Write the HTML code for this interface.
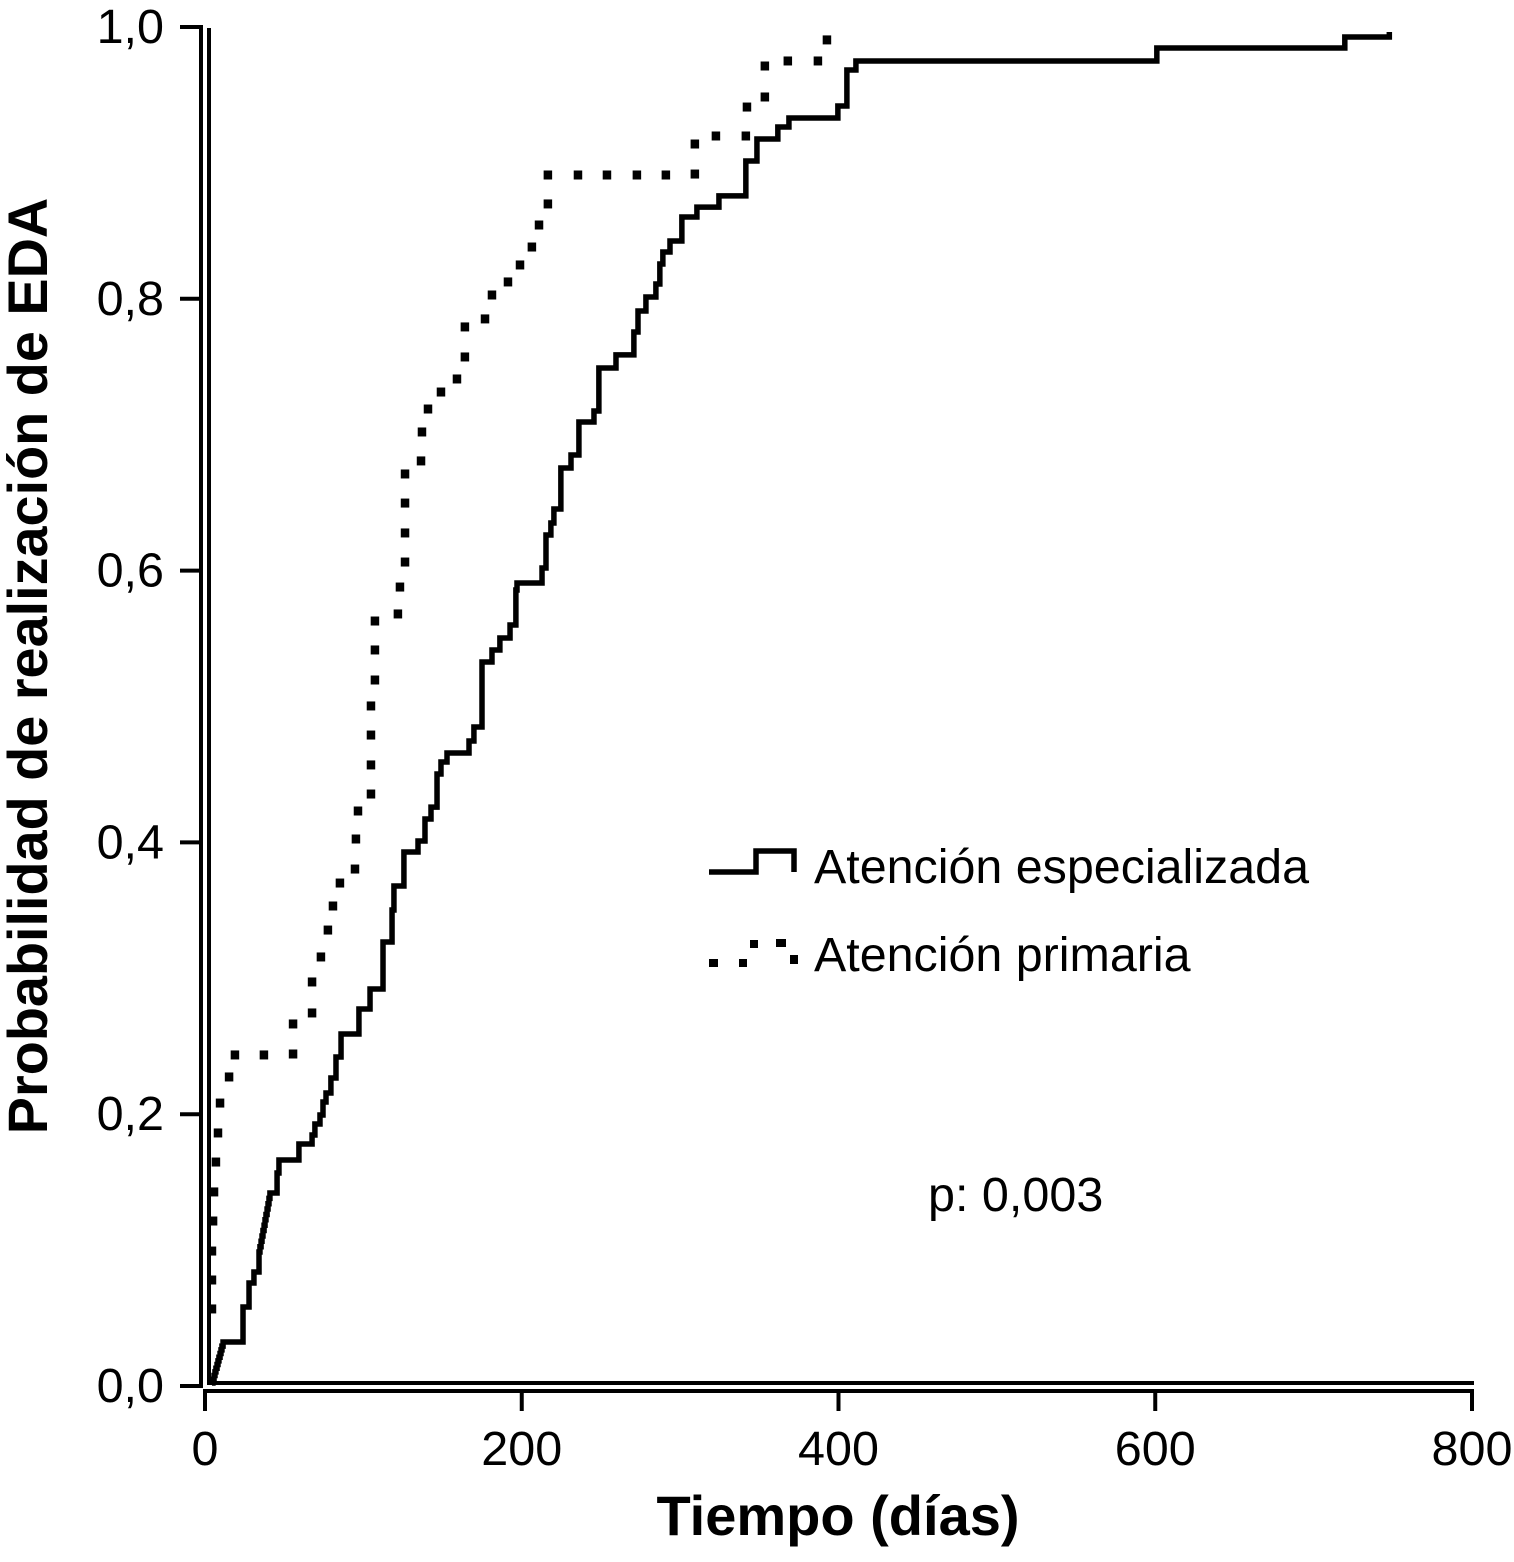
<!DOCTYPE html>
<html lang="es">
<head>
<meta charset="utf-8">
<title>Probabilidad de realización de EDA</title>
<style>
html,body{margin:0;padding:0;background:#fff;width:1514px;height:1562px;overflow:hidden}
svg{display:block;font-family:"Liberation Sans",Arial,sans-serif;fill:#000}
</style>
</head>
<body>
<svg id="chart" xmlns="http://www.w3.org/2000/svg" width="1514" height="1562" viewBox="0 0 1514 1562">
  <rect x="0" y="0" width="1514" height="1562" fill="#fff"/>
  <g id="axes"></g>
  <g id="series"></g>
  <text x="838" y="1535" font-size="56" font-weight="700" text-anchor="middle">Tiempo (días)</text>
  <text transform="translate(47,666) rotate(-90)" font-size="55.8" font-weight="700" text-anchor="middle">Probabilidad de realización de EDA</text>
  <g>
    <path d="M709 872H756V851H794V872" fill="none" stroke="#000" stroke-width="5.5"/>
    <text x="814" y="883" font-size="48.4">Atención especializada</text>
    <g>
      <rect x="709" y="959" width="9" height="8"/>
      <rect x="739" y="959" width="8" height="8"/>
      <rect x="750" y="940" width="8" height="8"/>
      <rect x="776" y="939" width="10" height="8"/>
      <rect x="790" y="955" width="8" height="9"/>
    </g>
    <text x="814" y="971" font-size="48.4">Atención primaria</text>
  </g>
  <text x="928" y="1211" font-size="48.5">p: 0,003</text>
</svg>
<script>
const xTickValues = [0, 200, 400, 600, 800];
const xTickLabels = ["0", "200", "400", "600", "800"];
const yTickValues = [0, 0.2, 0.4, 0.6, 0.8, 1];
const yTickLabels = ["0,0", "0,2", "0,4", "0,6", "0,8", "1,0"];

const especializadaTimes = [4.4,5.0,5.7,6.3,6.9,7.6,8.2,8.8,9.5,10.1,10.7,11.4,24.0,27.8,30.9,34.1,34.7,35.4,36.0,36.6,37.3,37.9,38.5,39.2,39.8,40.4,41.0,45.5,46.7,59.3,67.6,69.4,72.6,74.5,76.4,79.5,82.7,85.9,97.2,104.2,112.4,118.1,119.3,125.6,134.5,138.9,142.7,146.5,149.0,152.8,166.7,169.8,174.9,181.2,186.2,192.6,196.3,197.0,212.8,215.3,218.4,220.3,224.7,231.1,236.1,245.6,248.7,259.5,270.8,273.4,278.4,284.7,287.2,289.1,293.6,301.1,310.6,324.5,341.5,348.5,361.7,368.7,399.6,405.3,411.0,601.0,719.7,747.8];
const especializadaProbs = [0.0022,0.0050,0.0077,0.0104,0.0131,0.0158,0.0185,0.0212,0.0239,0.0266,0.0293,0.0324,0.0581,0.0758,0.0839,0.0986,0.1025,0.1065,0.1104,0.1144,0.1183,0.1223,0.1262,0.1302,0.1341,0.1381,0.1420,0.1567,0.1663,0.1781,0.1847,0.1928,0.1994,0.2090,0.2156,0.2266,0.2421,0.2590,0.2774,0.2921,0.3267,0.3503,0.3679,0.3929,0.4010,0.4172,0.4260,0.4503,0.4592,0.4658,0.4746,0.4849,0.5327,0.5416,0.5504,0.5600,0.5857,0.5909,0.6019,0.6262,0.6350,0.6453,0.6755,0.6851,0.7093,0.7174,0.7491,0.7587,0.7756,0.7910,0.8013,0.8109,0.8256,0.8344,0.8425,0.8602,0.8675,0.8757,0.9014,0.9176,0.9264,0.9330,0.9419,0.9684,0.9750,0.9845,0.9926,0.9963];

const primariaTimes = [4.4,4.4,4.4,5.1,5.7,6.9,8.2,9.5,15.2,18.9,37.2,55.6,55.6,67.6,67.6,73.2,77.6,80.8,85.2,94.7,95.3,96.6,104.8,104.8,104.8,104.8,107.3,107.3,107.3,121.8,123.1,126.3,126.3,126.3,126.3,136.4,137.0,140.8,149.0,159.1,164.1,164.1,176.8,181.2,191.3,198.9,206.4,210.9,216.5,216.5,235.5,253.8,272.7,291.0,309.3,309.3,322.6,341.5,342.2,353.5,353.5,368.0,387.0,392.7];
const primariaProbs = [0.0567,0.0780,0.0993,0.1214,0.1428,0.1648,0.1862,0.2082,0.2274,0.2436,0.2436,0.2443,0.2664,0.2745,0.2973,0.3157,0.3355,0.3532,0.3701,0.3804,0.4025,0.4231,0.4356,0.4570,0.4790,0.5004,0.5195,0.5416,0.5629,0.5681,0.5879,0.6063,0.6277,0.6497,0.6711,0.6807,0.7020,0.7189,0.7314,0.7410,0.7572,0.7793,0.7852,0.8028,0.8124,0.8249,0.8381,0.8543,0.8698,0.8911,0.8911,0.8911,0.8911,0.8911,0.8918,0.9139,0.9198,0.9198,0.9411,0.9485,0.9713,0.9750,0.9750,0.9905];

const SVG_NS = "http://www.w3.org/2000/svg";
function xScale(t) { return 205 + 1.58375 * t; }
function yScale(p) { return 1386 - 1359 * p; }

function make(tag, attrs, parent) {
  const el = document.createElementNS(SVG_NS, tag);
  for (const k in attrs) el.setAttribute(k, attrs[k]);
  parent.appendChild(el);
  return el;
}

const axes = document.getElementById("axes");
const series = document.getElementById("series");

const yAxisLine = make("line", {x1: 201, y1: 25, x2: 201, y2: 1388, stroke: "#000", "stroke-width": 4}, axes);



const xAxisLine = make("line", {x1: 203, y1: 1391, x2: 1474, y2: 1391, stroke: "#000", "stroke-width": 4}, axes);



const frameV = make("line", {x1: 209, y1: 28, x2: 209, y2: 1385, stroke: "#000", "stroke-width": 4}, axes);



const frameH = make("line", {x1: 207, y1: 1383, x2: 1474, y2: 1383, stroke: "#000", "stroke-width": 4}, axes);



xTickValues.forEach(function (v, i) {
  const px = xScale(v);
  const tick = make("line", {x1: px, y1: 1391, x2: px, y2: 1411, stroke: "#000", "stroke-width": 4}, axes);
  
  
  const label = make("text", {x: px, y: 1465, "font-size": 48.5, "text-anchor": "middle"}, axes);
  
  
  label.textContent = xTickLabels[i];
});

yTickValues.forEach(function (v, i) {
  const py = yScale(v);
  const tick = make("line", {x1: 180, y1: py, x2: 201, y2: py, stroke: "#000", "stroke-width": 4}, axes);
  
  
  const label = make("text", {x: 164, y: py + 16, "font-size": 48.5, "text-anchor": "end"}, axes);
  
  
  label.textContent = yTickLabels[i];
});

let d = "M" + xScale(especializadaTimes[0]) + " " + yScale(especializadaProbs[0]);
for (let i = 1; i < especializadaTimes.length; i++) {
  d += "H" + xScale(especializadaTimes[i]).toFixed(2) + "V" + yScale(especializadaProbs[i]).toFixed(2);
}
const solidLine = make("path", {d: d, fill: "none", stroke: "#000", "stroke-width": 5.5, "stroke-linejoin": "miter"}, series);



primariaTimes.forEach(function (t, i) {
  const dot = make("rect", {x: xScale(t) - 4.25, y: yScale(primariaProbs[i]) - 4.5, width: 8.5, height: 9}, series);
  
  
});
</script>
</body>
</html>
